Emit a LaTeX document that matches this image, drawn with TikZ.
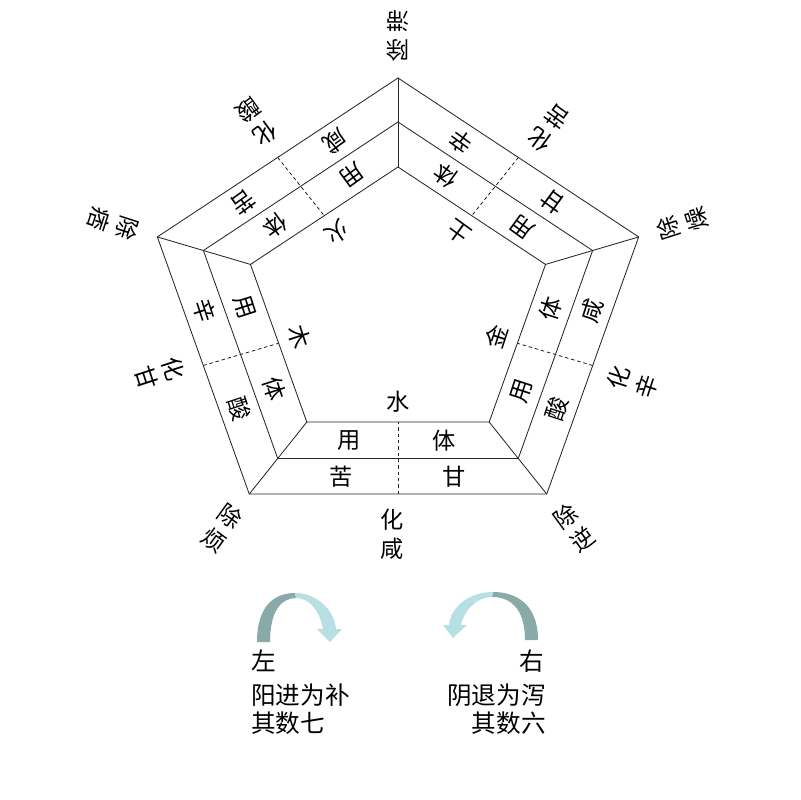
\documentclass[tikz,border=0pt]{standalone}
\usepackage{fontspec}
\newfontfamily\cjk{Noto Sans CJK SC}
\usetikzlibrary{calc}
\definecolor{arrowdark}{RGB}{138,170,170}
\definecolor{arrowlight}{RGB}{183,224,227}
\tikzset{
  pline/.style={line width=0.6pt,black!85},
  halfline/.style={pline,dash pattern=on 2.5pt off 2pt},
  zi/.style={font=\cjk\fontsize{16.5}{20.5}\selectfont,inner sep=0pt,align=center},
  shu/.style={font=\cjk\fontsize{17.5}{21}\selectfont,inner sep=0pt},
}
\begin{document}
\begin{tikzpicture}[x=0.025cm,y=0.025cm]%汤液经法图
\useasboundingbox (-398,-492) rectangle (402,308);
\begin{scope}[xscale=1.1]
  \foreach \j in {0,...,4}{
    \coordinate (O\j) at (234+72*\j:230);
    \coordinate (M\j) at (234+72*\j:186);
    \coordinate (I\j) at (234+72*\j:141);
    \coordinate (b\j) at (234+72*\j:163.5);
    \coordinate (c\j) at (234+72*\j:208);
  }
  \draw[pline] (O0)--(O1)--(O2)--(O3)--(O4)--cycle;
  \draw[pline] (M0)--(M1)--(M2)--(M3)--(M4)--cycle;
  \draw[pline] (I0)--(I1)--(I2)--(I3)--(I4)--cycle;
  \foreach \j in {0,...,4}
    \draw[pline] (O\j)--(I\j);
  % side: element / yong taste / ti taste / hua taste / corner
  \foreach \k/\nx/\el/\yw/\tw/\hw/\corn in {0/1/水/苦/甘/咸/烦,1/2/金/酸/咸/辛/逆,2/3/土/甘/辛/苦/燥,3/4/火/咸/苦/酸/滞,4/0/木/辛/酸/甘/痞}{
    \draw[halfline] ($(O\k)!.5!(O\nx)$)--($(I\k)!.5!(I\nx)$);
    \coordinate (im) at ($(I\k)!.5!(I\nx)$);
    \node[zi,rotate=72*\k] (el\k) at ($(im)!0.5cm!(0,0)$) {\el};
    \node[zi,rotate=72*\k] (yong\k) at ($(b\k)!.27!(b\nx)$) {用};
    \node[zi,rotate=72*\k] (ti\k) at ($(b\k)!.72!(b\nx)$) {体};
    \node[zi,rotate=72*\k] (yw\k) at ($(c\k)!.29!(c\nx)$) {\yw};
    \node[zi,rotate=72*\k] (tw\k) at ($(c\k)!.71!(c\nx)$) {\tw};
    \node[zi,rotate=72*\k] (hua\k) at (268.7+72*\k:226) {化\\\hw};
    \node[zi,rotate=72*\k-36] (chu\k) at (234+72*\k:272) {除\\\corn};
  }
\end{scope}
% curved arrows
\fill[arrowdark] (-141,-334) .. controls (-141,-297) and (-123,-285) .. (-103,-285)
  -- (-102,-290) .. controls (-116,-290) and (-128,-302) .. (-128,-334) -- cycle;
\fill[arrowlight] (-103,-285) .. controls (-83,-285) and (-64,-300) .. (-62,-321)
  -- (-56,-321) -- (-68,-334) -- (-81,-321) -- (-75,-321)
  .. controls (-78,-304) and (-88,-290) .. (-102,-290) -- cycle;
\fill[arrowdark] (140,-332) .. controls (140,-296) and (118,-284) .. (95,-284)
  -- (94,-289) .. controls (112,-289) and (127,-300) .. (127,-332) -- cycle;
\fill[arrowlight] (95,-284) .. controls (72,-284) and (53,-298) .. (51,-317)
  -- (45,-317) -- (55,-330) -- (69,-317) -- (63,-317)
  .. controls (66,-303) and (78,-289) .. (94,-289) -- cycle;
% texts below
\node[shu,anchor=west] (zuo) at (-147,-353) {左};
\node[shu,anchor=west] (zuoA) at (-147,-387) {阳进为补};
\node[shu,anchor=west] (zuoB) at (-147,-415) {其数七};
\node[shu,anchor=east] (you) at (146,-353) {右};
\node[shu,anchor=east] (youA) at (148,-387) {阴退为泻};
\node[shu,anchor=east] (youB) at (148,-415) {其数六};
\end{tikzpicture}
\end{document}
